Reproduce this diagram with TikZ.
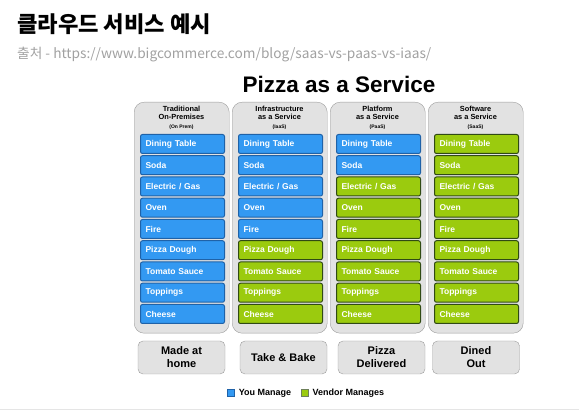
\documentclass[tikz,border=0pt]{standalone}
\usepackage{fontspec}
\setmainfont{Liberation Sans}
\newfontfamily\kofont{Noto Sans CJK KR}
\usetikzlibrary{positioning}
\definecolor{youblue}{HTML}{3399F2}
\definecolor{youedge}{HTML}{1F62A8}
\definecolor{vendgreen}{HTML}{9BCB0E}
\definecolor{vendedge}{HTML}{304A14}
\definecolor{colgray}{HTML}{E2E2E2}
\definecolor{coledge}{HTML}{9C9C9C}
\tikzstyle{title}=[anchor=base west,inner sep=0,font=\kofont\bfseries\fontsize{22.2}{26}\selectfont]
\tikzstyle{src}=[anchor=base west,inner sep=0,text=black!37,font=\kofont\fontsize{13.7}{16}\selectfont]
\tikzstyle{pizza}=[anchor=base,inner sep=0,font=\bfseries\fontsize{22.5}{26}\selectfont]
\tikzstyle{col}=[rectangle,draw=coledge,fill=colgray,rounded corners=10pt,anchor=north west,minimum width=95pt,minimum height=231pt,inner sep=0]
\tikzstyle{colhead}=[anchor=north,inner sep=0,align=center,font=\bfseries\fontsize{7.4}{8.3}\selectfont]
\tikzstyle{blk}=[rectangle,rounded corners=2pt,line width=1pt,anchor=north west,minimum height=19pt,text width=74pt,inner xsep=5pt,inner ysep=0,align=left,text=white,font=\bfseries\fontsize{8.5}{10}\selectfont]
\tikzstyle{outcome}=[rectangle,draw=coledge,fill=colgray,rounded corners=5pt,minimum width=87pt,minimum height=33pt,align=center,font=\bfseries\fontsize{11}{13}\selectfont]
\tikzstyle{key}=[rectangle,minimum size=6.5pt,inner sep=0,line width=0.6pt]
\tikzstyle{keytext}=[inner sep=0,font=\bfseries\fontsize{9}{11}\selectfont]

\begin{document}
\begin{tikzpicture}[x=1pt,y=-1pt]
\useasboundingbox (0,0) rectangle (579,414);
\node[title] (head) at (17,33) {클라우드 서비스 예시};
\node[src] (srcline) at (17,59) {출처 - https://www.bigcommerce.com/blog/saas-vs-paas-vs-iaas/};
\node[pizza] (pizza) at (339,93) {Pizza as a Service};
% columns: number of blocks you manage
\foreach \i/\x/\name/\sub/\nb in {1/134/{Traditional\\On-Premises}/On Prem/9,
    2/232/{Infrastructure\\as a Service}/IaaS/5,
    3/330/{Platform\\as a Service}/PaaS/2,
    4/428/{Software\\as a Service}/SaaS/0}{
  \node[col] (c\i) at (\x,102) {};
  \node[colhead] (h\i) at ({\x+47.5},106) {\name\\{\fontsize{5}{6}\selectfont (\sub)}};
  \foreach \k/\lab in {1/Dining Table,2/Soda,3/{Electric / Gas},4/Oven,5/Fire,
      6/Pizza Dough,7/Tomato Sauce,8/Toppings,9/Cheese}{
    \ifnum\k>\nb \def\bc{vendgreen}\def\be{vendedge}\else\def\bc{youblue}\def\be{youedge}\fi
    \node[blk,fill=\bc,draw=\be] (b\i-\k) at ({\x+6},{112.75+21.25*\k}) {\lab};
  }
}
% what you end up with
\foreach \i/\x/\txt in {1/181.5/{Made at\\home},2/283.5/{Take \& Bake},
    3/381.5/{Pizza\\Delivered},4/476/{Dined\\Out}}{
  \node[outcome] (o\i) at (\x,357.5) {\txt};
}
\node[key,fill=youblue,draw=youedge] (ky) at (231,393) {};
\node[keytext,right=4pt of ky] (kyt) {You Manage};
\node[key,fill=vendgreen,draw=vendedge!70,right=10pt of kyt] (kv) {};
\node[keytext,right=4pt of kv] (kvt) {Vendor Manages};
\draw[black!10,line width=1.5pt] (0,409.5) -- (579,409.5);
\end{tikzpicture}
\end{document}
